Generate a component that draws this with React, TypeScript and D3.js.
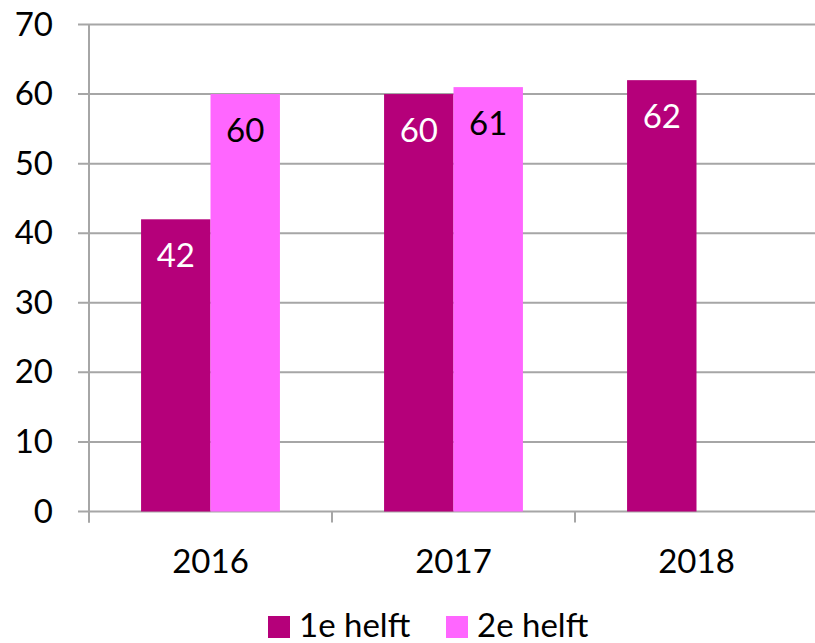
import React from 'react';
import * as d3 from 'd3';

const years = ['2016', '2017', '2018'];
const series = ['1e helft', '2e helft'];
const firstHalf: (number | null)[] = [42, 60, 62];
const secondHalf: (number | null)[] = [60, 61, null];
const yTicks = [0, 10, 20, 30, 40, 50, 60, 70];

const colors = ['#b5007a', '#ff66ff'];
const labelColors = ['#ffffff', '#000000'];
const font = 'Lato, "Open Sans", sans-serif';

const W = 815, H = 643;
const left = 89, top = 24.5, bottom = 511.5;
const catW = 243;

export default function App() {
  const x = d3.scaleBand<string>().domain(years).range([left, left + catW * years.length]);
  const inner = d3.scaleBand<string>().domain(series).range([0, catW]).paddingInner(0).paddingOuter(0.75);
  const y = d3.scaleLinear().domain([0, 70]).range([bottom, top]);
  const values = [firstHalf, secondHalf];
  const grid = '#a6a6a6';

  return (
    <svg width={W} height={H} style={{ position: 'absolute', left: 0, top: 0, background: '#fff' }}>
      {yTicks.map(t => (
        <g key={t}>
          <line x1={left - 11} x2={W} y1={y(t)} y2={y(t)} stroke={grid} strokeWidth={2} />
          <text x={53} y={y(t) + 11} textAnchor="end" fontFamily={font} fontSize={33} fill="#000">{t}</text>
        </g>
      ))}
      <line x1={left} x2={left} y1={top} y2={bottom + 11} stroke={grid} strokeWidth={2} />
      {years.map(yr => (
        <line key={yr} x1={x(yr)!} x2={x(yr)!} y1={bottom} y2={bottom + 11} stroke={grid} strokeWidth={2} />
      ))}
      {values.map((vals, si) =>
        vals.map((v, ci) => {
          if (v == null) return null;
          const bx = x(years[ci])! + inner(series[si])!;
          const bw = inner.bandwidth();
          return (
            <g key={`${si}-${ci}`}>
              <rect x={bx} y={y(v)} width={bw} height={bottom - y(v)} fill={colors[si]} />
              <text x={bx + bw / 2} y={y(v) + 48} textAnchor="middle" fontFamily={font} fontSize={33} fill={labelColors[si]}>{v}</text>
            </g>
          );
        })
      )}
      {years.map(yr => (
        <text key={yr} x={x(yr)! + catW / 2} y={bottom + 61} textAnchor="middle" fontFamily={font} fontSize={33} fill="#000">{yr}</text>
      ))}
      <g>
        <rect x={268} y={616} width={22} height={22} fill={colors[0]} />
        <text x={299} y={637} fontFamily={font} fontSize={33} fill="#000">{series[0]}</text>
        <rect x={446} y={616} width={22} height={22} fill={colors[1]} />
        <text x={477} y={637} fontFamily={font} fontSize={33} fill="#000">{series[1]}</text>
      </g>
    </svg>
  );
}
